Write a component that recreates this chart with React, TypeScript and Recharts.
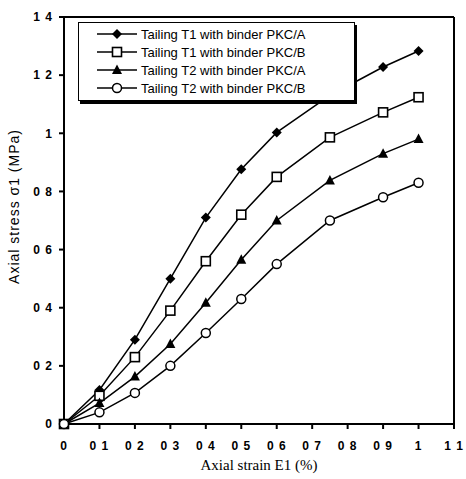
import React from 'react'
import {
  LineChart,
  Line,
  XAxis,
  YAxis,
  ReferenceLine,
} from 'recharts'

const STRAIN = [0, 0.1, 0.2, 0.3, 0.4, 0.5, 0.6, 0.75, 0.9, 1.0]
const T1_PKCA = [0, 0.117, 0.29, 0.5, 0.71, 0.876, 1.003, 1.13, 1.228, 1.283]
const T1_PKCB = [0, 0.097, 0.23, 0.39, 0.56, 0.72, 0.85, 0.986, 1.072, 1.124]
const T2_PKCA = [0, 0.072, 0.163, 0.275, 0.417, 0.565, 0.7, 0.838, 0.93, 0.98]
const T2_PKCB = [0, 0.04, 0.107, 0.2, 0.313, 0.43, 0.55, 0.7, 0.78, 0.83]
const X_TICKS = [0, 0.1, 0.2, 0.3, 0.4, 0.5, 0.6, 0.7, 0.8, 0.9, 1, 1.1]
const Y_TICKS = [0, 0.2, 0.4, 0.6, 0.8, 1, 1.2, 1.4]

const SERIES = [
  { key: 'T1A', name: 'Tailing T1 with binder PKC/A', values: T1_PKCA, marker: 'diamond' },
  { key: 'T1B', name: 'Tailing T1 with binder PKC/B', values: T1_PKCB, marker: 'square' },
  { key: 'T2A', name: 'Tailing T2 with binder PKC/A', values: T2_PKCA, marker: 'triangle' },
  { key: 'T2B', name: 'Tailing T2 with binder PKC/B', values: T2_PKCB, marker: 'circle' },
]

const data = STRAIN.map((x, i) => {
  const row: Record<string, number> = { x }
  SERIES.forEach((s) => {
    row[s.key] = s.values[i]
  })
  return row
})

// scanned labels lost their decimal point: "0 2", "1 4"
const fmt = (v: number) => (Number.isInteger(v) ? String(v) : v.toFixed(1).replace('.', ' '))

function Marker({ type, cx, cy }: { type: string; cx: number; cy: number }) {
  if (type === 'diamond') {
    return <polygon points={`${cx},${cy - 5} ${cx + 5},${cy} ${cx},${cy + 5} ${cx - 5},${cy}`} fill="#000" />
  }
  if (type === 'square') {
    return <rect x={cx - 4.5} y={cy - 4.5} width={9} height={9} fill="#fff" stroke="#000" strokeWidth={1.6} />
  }
  if (type === 'triangle') {
    return <polygon points={`${cx},${cy - 5.5} ${cx + 5},${cy + 4} ${cx - 5},${cy + 4}`} fill="#000" />
  }
  return <circle cx={cx} cy={cy} r={4.5} fill="#fff" stroke="#000" strokeWidth={1.5} />
}

const makeDot = (type: string) => (props: any) => {
  const { cx, cy, index } = props
  if (cx == null || cy == null) return <g key={index} />
  return (
    <g key={index}>
      <Marker type={type} cx={cx} cy={cy} />
    </g>
  )
}

function LegendBox() {
  return (
    <div
      style={{
        position: 'absolute',
        top: 22,
        left: 78,
        width: 277,
        boxSizing: 'border-box',
        border: '1px solid #000',
        boxShadow: '2px 3px 0 #000',
        background: '#fff',
        padding: '2px 0 3px 0',
        fontFamily: '"Liberation Sans", Arial, sans-serif',
        fontSize: 13,
        color: '#000',
      }}
    >
      {SERIES.map((s) => (
        <div key={s.key} style={{ display: 'flex', alignItems: 'center', height: 18 }}>
          <svg width={60} height={18} style={{ flex: 'none' }}>
            <line x1={18} y1={9} x2={58} y2={9} stroke="#000" strokeWidth={1.5} />
            <Marker type={s.marker} cx={38} cy={9} />
          </svg>
          <span style={{ marginLeft: 2 }}>{s.name}</span>
        </div>
      ))}
    </div>
  )
}

export default function App() {
  const tick = {
    fill: '#000',
    fontSize: 12,
    fontWeight: 'bold',
    letterSpacing: 1,
    fontFamily: '"Liberation Sans", Arial, sans-serif',
  }
  return (
    <div style={{ position: 'absolute', top: 0, left: 0, width: 466, height: 479, background: '#fff' }}>
      <LineChart width={466} height={479} data={data} margin={{ top: 17, right: 12, bottom: 0, left: 0 }}>
        <XAxis
          dataKey="x"
          type="number"
          domain={[0, 1.1]}
          ticks={X_TICKS}
          tickFormatter={fmt}
          tick={tick}
          tickSize={5}
          tickMargin={12}
          height={55}
          stroke="#000"
          strokeWidth={2}
          label={{
            value: 'Axial strain E1 (%)',
            position: 'insideBottom',
            offset: 9,
            fill: '#000',
            fontSize: 15,
            fontFamily: '"Liberation Serif", "Times New Roman", serif',
          }}
        />
        <YAxis
          type="number"
          domain={[0, 1.4]}
          ticks={Y_TICKS}
          tickFormatter={fmt}
          tick={tick}
          tickSize={5}
          tickMargin={6}
          width={64}
          stroke="#000"
          strokeWidth={2}
          label={{
            value: 'Axial stress σ1  (MPa)',
            angle: -90,
            position: 'insideLeft',
            offset: 14,
            dy: -14,
            fill: '#000',
            fontSize: 14,
            letterSpacing: 1,
            fontFamily: '"Liberation Sans", Arial, sans-serif',
            style: { textAnchor: 'middle' },
          }}
        />
        <ReferenceLine y={1.4} stroke="#000" strokeWidth={2} />
        <ReferenceLine x={1.1} stroke="#000" strokeWidth={2} />
        {SERIES.map((s) => (
          <Line
            key={s.key}
            dataKey={s.key}
            name={s.name}
            type="linear"
            stroke="#000"
            strokeWidth={1.5}
            dot={makeDot(s.marker)}
            activeDot={false}
            isAnimationActive={false}
          />
        ))}
      </LineChart>
      <LegendBox />
    </div>
  )
}
